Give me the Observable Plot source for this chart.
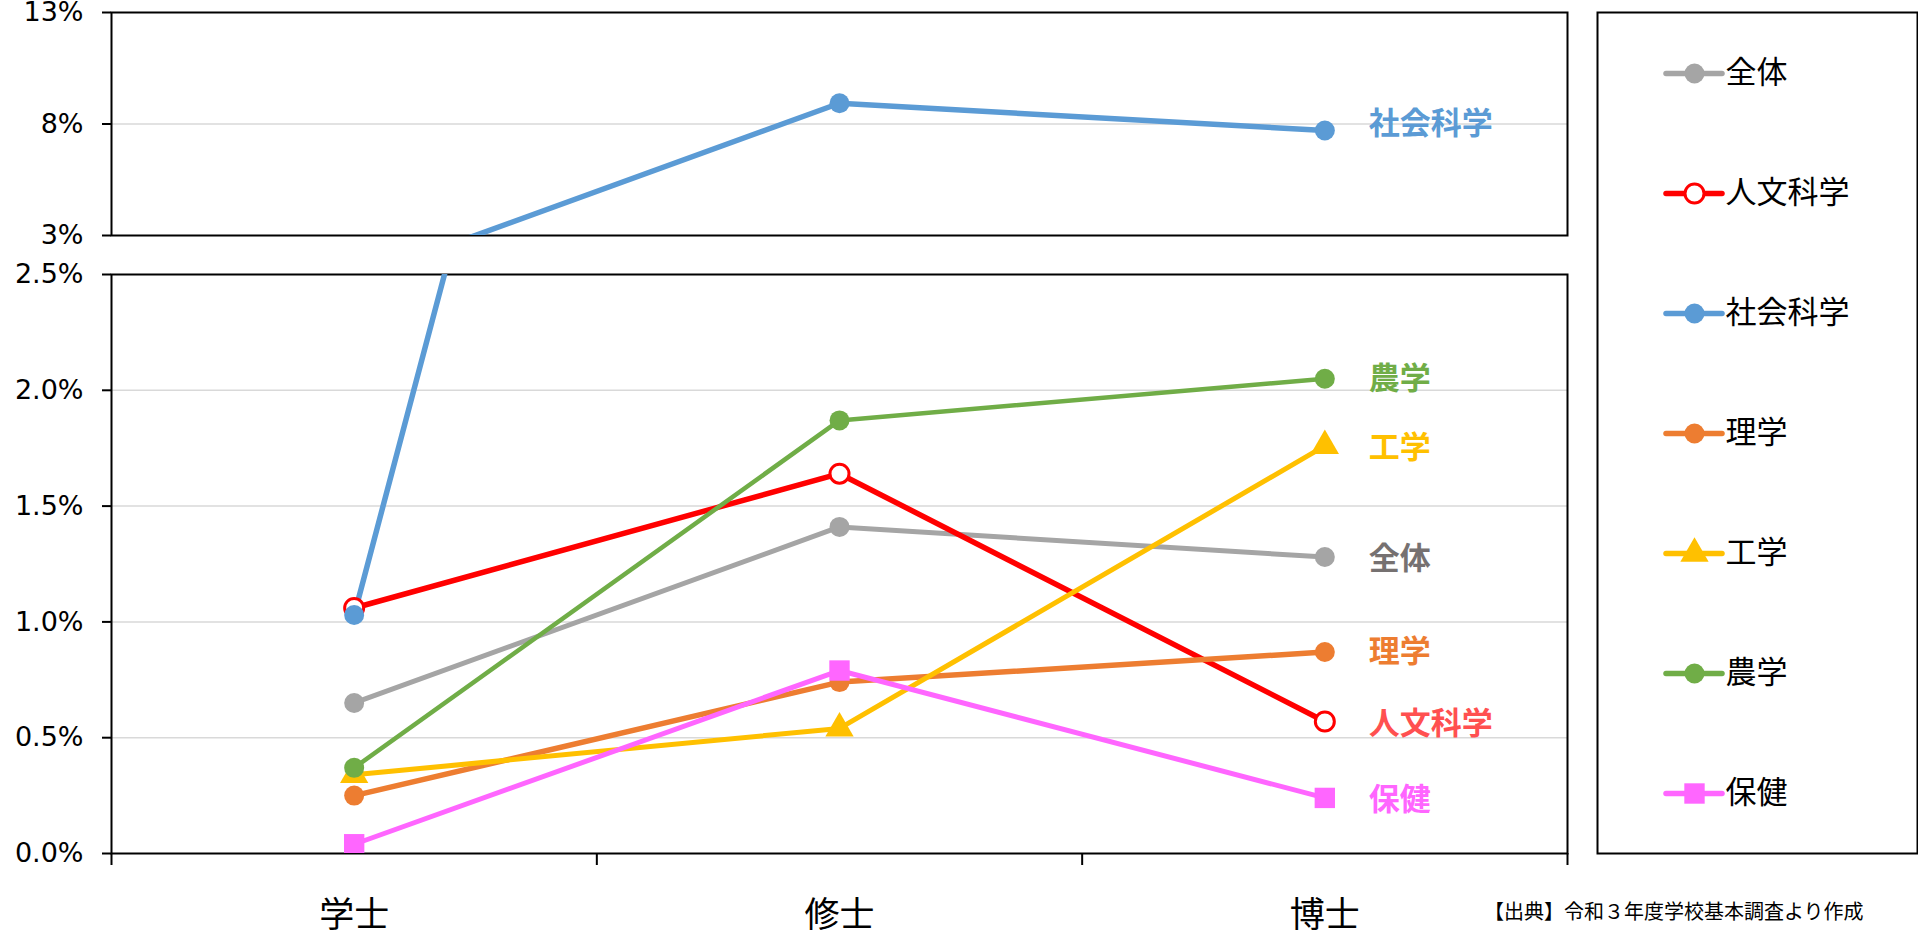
<!DOCTYPE html>
<html><head><meta charset="utf-8">
<script src="https://cdn.jsdelivr.net/npm/d3@7"></script>
<script src="https://cdn.jsdelivr.net/npm/@observablehq/plot@0.6"></script>
<style>
body{margin:0;background:#fff;}
#wrap{position:relative;width:1918px;height:932px;overflow:hidden;background:#fff;}
#wrap > *{position:absolute;}
#caption{left:1484px;top:897px;font:20px "Noto Sans CJK JP";color:#000;white-space:nowrap;line-height:28px;}
</style></head><body><div id="wrap"></div>
<script>
// ---- data ----
const degrees = ["学士", "修士", "博士"];
const series = ["全体", "人文科学", "社会科学", "理学", "工学", "農学", "保健"];
const zentai = [0.65, 1.41, 1.28];
const jinbun = [1.06, 1.64, 0.57];
const shakai = [1.03, 8.93, 7.71];
const rigaku = [0.25, 0.74, 0.87];
const kogaku = [0.34, 0.54, 1.76];
const nogaku = [0.37, 1.87, 2.05];
const hoken  = [0.04, 0.79, 0.24];
const topTicks = [3, 8, 13];
const bottomTicks = [0, 0.5, 1.0, 1.5, 2.0, 2.5];
const captionText = "【出典】令和３年度学校基本調査より作成";

// ---- styles ----
const lineColors  = ["#A5A5A5", "#FF0000", "#5B9BD5", "#ED7D31", "#FFC000", "#70AD47", "#FF66FF"];
const labelColors = ["#767171", "#FF5050", "#5B9BD5", "#ED7D31", "#FFC000", "#70AD47", "#FF66FF"];
const markerFill  = ["#A5A5A5", "#FFFFFF", "#5B9BD5", "#ED7D31", "#FFC000", "#70AD47", "#FF66FF"];
const symbols     = ["circle", "circle", "circle", "circle", "triangle", "circle", "square"];
const markerR     = [10, 9.5, 10, 10, 10.5, 10, 11.5];
const lineWidths  = [5, 5.5, 5.5, 5.5, 5, 4.5, 5];
const labelDy     = [2, 3, -6, 0, 2, 0, 2];

const values = [zentai, jinbun, shakai, rigaku, kogaku, nogaku, hoken];
const rows = series.flatMap((s, i) => values[i].map((v, j) => ({series: s, i, degree: degrees[j], pos: j + 0.5, value: v})));

const NUM_FONT = "DejaVu Sans";
const CJK_FONT = "Noto Sans CJK JP";
const wrap = document.getElementById("wrap");

function panel(idx, domain, ticks, fmt, opts) {
  const marks = [
    Plot.gridY(ticks.slice(1, -1), {stroke: "#D9D9D9", strokeOpacity: 1, strokeWidth: 1.5}),
    Plot.frame({stroke: "black", strokeWidth: 2}),
    Plot.axisY(ticks, {tickFormat: fmt, tickSize: 9, tickPadding: 19, fontSize: 27, fontFamily: NUM_FONT, stroke: "black", strokeWidth: 2, label: null})
  ];
  for (const i of idx) {
    marks.push(Plot.line(rows.filter(r => r.i === i), {x: "pos", y: "value", stroke: lineColors[i], strokeWidth: lineWidths[i], clip: true}));
  }
  for (const i of idx) {
    marks.push(Plot.dot(rows.filter(r => r.i === i), {x: "pos", y: "value", symbol: symbols[i], r: markerR[i], fill: markerFill[i],
      stroke: markerFill[i] === "#FFFFFF" ? lineColors[i] : "none", strokeWidth: 3, clip: true}));
  }
  for (const i of idx) {
    const last = rows.filter(r => r.i === i && r.degree === degrees[2] && r.value >= domain[0] && r.value <= domain[1]);
    marks.push(Plot.text(last, {x: "pos", y: "value", text: "series", dx: 44, dy: labelDy[i], textAnchor: "start",
      fill: labelColors[i], fontSize: 31, fontWeight: "bold", fontFamily: CJK_FONT}));
  }
  if (opts.showX) {
    marks.push(Plot.axisX([0, 1, 2, 3], {tickSize: 12, tickFormat: () => "", stroke: "black", strokeWidth: 2, label: null}));
    marks.push(Plot.axisX([0.5, 1.5, 2.5], {tickSize: 0, tickPadding: 49, tickFormat: d => degrees[Math.floor(d)], fontSize: 35, fontFamily: CJK_FONT, label: null}));
  }
  const p = Plot.plot({
    width: 1580, height: opts.height,
    marginLeft: 111, marginRight: 13, marginTop: opts.mt, marginBottom: opts.mb,
    x: {type: "linear", domain: [0, 3], axis: null},
    y: {domain, axis: null},
    style: {color: "black", background: "transparent", overflow: "visible"},
    marks
  });
  p.style.left = "0px";
  p.style.top = opts.top + "px";
  wrap.appendChild(p);
}

// top panel (3%–13%)
panel([2], [3, 13], topTicks, d => d + "%", {height: 250, mt: 12, mb: 15, top: 0, showX: false});
// bottom panel (0%–2.5%)
panel([0, 1, 2, 3, 4, 5, 6], [0, 2.5], bottomTicks, d => d.toFixed(1) + "%", {height: 682, mt: 24, mb: 79, top: 250, showX: true});

// legend
const legendMarks = [Plot.frame({stroke: "black", strokeWidth: 2})];
series.forEach((s, i) => {
  legendMarks.push(Plot.ruleY([s], {x1: 69, x2: 125, stroke: lineColors[i], strokeWidth: 5.5, strokeLinecap: "round"}));
});
series.forEach((s, i) => {
  legendMarks.push(Plot.dot([s], {x: 97, y: d => d, symbol: symbols[i], r: markerR[i], fill: markerFill[i],
    stroke: markerFill[i] === "#FFFFFF" ? lineColors[i] : "none", strokeWidth: 3}));
  legendMarks.push(Plot.text([s], {x: 128, y: d => d, text: d => d, textAnchor: "start", fontSize: 31, fontFamily: CJK_FONT, fill: "black"}));
});
const legend = Plot.plot({
  width: 338, height: 870,
  marginLeft: 17, marginRight: 1, marginTop: 12, marginBottom: 17,
  x: {domain: [0, 320], axis: null},
  y: {type: "point", domain: series, padding: 0.5, axis: null},
  style: {color: "black", background: "transparent"},
  marks: legendMarks
});
legend.style.left = "1580px";
legend.style.top = "0px";
wrap.appendChild(legend);

const cap = document.createElement("div");
cap.id = "caption";
cap.textContent = captionText;
wrap.appendChild(cap);
</script></body></html>
